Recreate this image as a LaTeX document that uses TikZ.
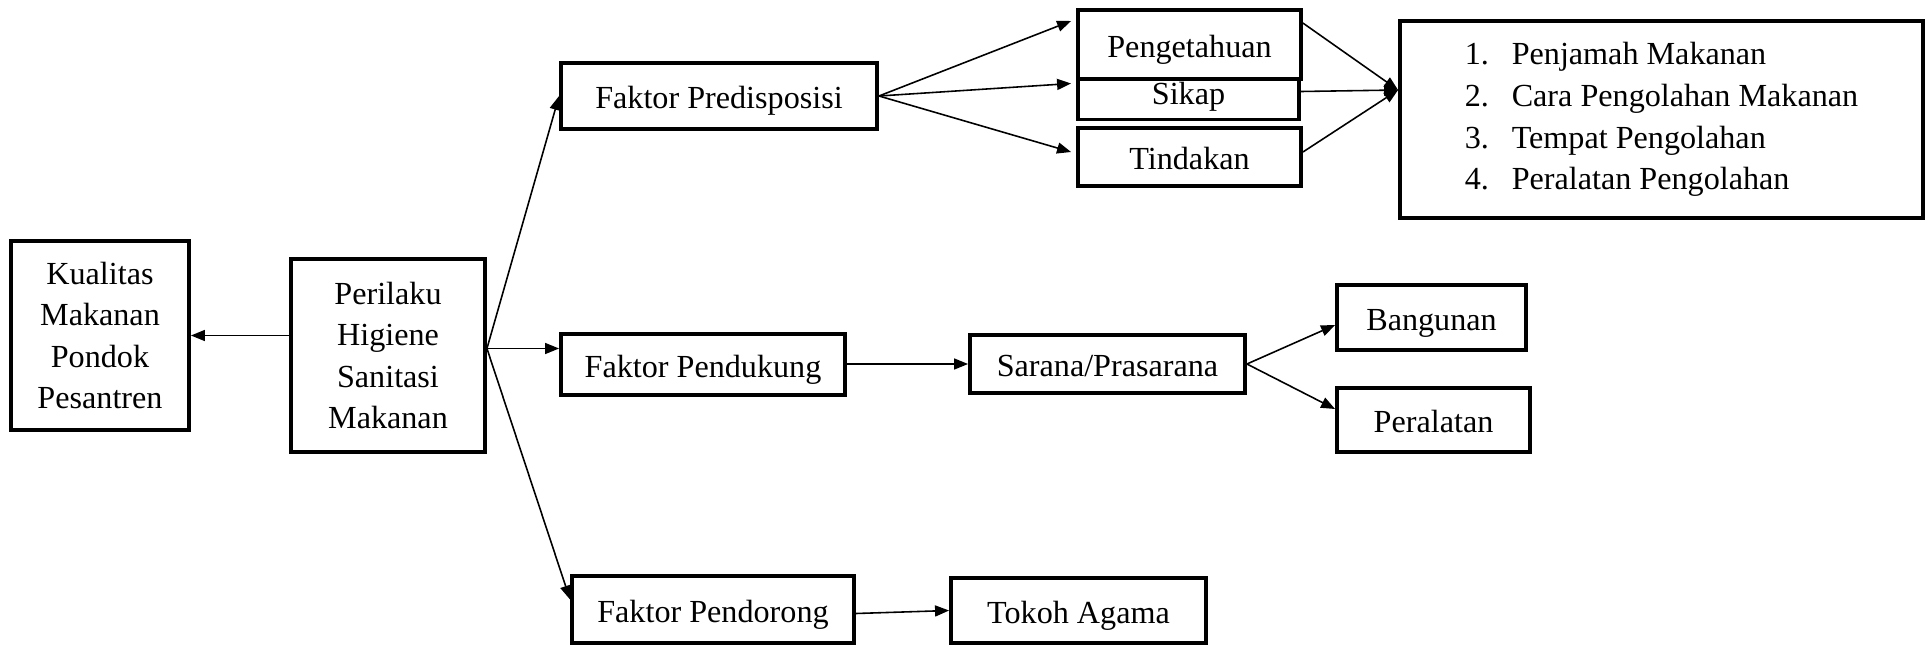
\documentclass[tikz,border=0pt]{standalone}
\usepackage{fontspec}
\setmainfont{Liberation Serif}
\usetikzlibrary{arrows.meta}
\begin{document}
\begin{tikzpicture}[
  kotak/.style={draw, line width=2.2pt, fill=white, inner sep=0pt, align=center,
    font=\fontsize{18.3}{23.7}\selectfont},
  satu/.style={kotak, text height=14.5pt, text depth=0pt},
  panah/.style={line width=0.9pt, -{Triangle[length=0.28cm,width=0.22cm]}}
  ]
  \useasboundingbox (0,0) rectangle (38.5,-12.9);

  \node [ kotak, minimum width=3.56cm, minimum height=3.78cm ] (Kualitas) at (2.0,-6.71) {Kualitas\\Makanan\\Pondok\\Pesantren};
  \node [ kotak, minimum width=3.88cm, minimum height=3.86cm ] (Perilaku) at (7.76,-7.11) {Perilaku\\Higiene\\Sanitasi\\Makanan};

  \node [ satu, minimum width=6.32cm, minimum height=1.32cm ] (Predisposisi) at (14.38,-1.92) {Faktor Predisposisi};
  \node [ satu, minimum width=5.68cm, minimum height=1.22cm ] (Pendukung) at (14.06,-7.29) {Faktor Pendukung};
  \node [ satu, minimum width=5.64cm, minimum height=1.34cm ] (Pendorong) at (14.26,-12.19) {Faktor Pendorong};

  \node [ satu, minimum width=4.42cm, minimum height=1.12cm ] (Sikap) at (23.77,-1.83) {Sikap};
  \node [ satu, minimum width=4.46cm, minimum height=1.38cm ] (Pengetahuan) at (23.79,-0.89) {Pengetahuan};
  \node [ satu, minimum width=4.46cm, minimum height=1.16cm ] (Tindakan) at (23.79,-3.14) {Tindakan};

  \node [ kotak, align=left, minimum width=10.46cm, minimum height=3.94cm ] (Daftar) at (33.23,-2.39)
    {\makebox[0.94cm][l]{1.}Penjamah Makanan\\
     \makebox[0.94cm][l]{2.}Cara Pengolahan Makanan\\
     \makebox[0.94cm][l]{3.}Tempat Pengolahan\\
     \makebox[0.94cm][l]{4.}Peralatan Pengolahan};

  \node [ satu, minimum width=5.5cm, minimum height=1.16cm ] (Sarana) at (22.15,-7.28) {Sarana/Prasarana};
  \node [ satu, minimum width=3.78cm, minimum height=1.3cm ] (Bangunan) at (28.63,-6.35) {Bangunan};
  \node [ satu, minimum width=3.86cm, minimum height=1.28cm ] (Peralatan) at (28.67,-8.4) {Peralatan};
  \node [ satu, minimum width=5.1cm, minimum height=1.3cm ] (Tokoh) at (21.57,-12.21) {Tokoh Agama};

  \coordinate (cabang) at ([yshift=0.14cm]Perilaku.east);

  \draw [ panah ] (Perilaku.west |- Kualitas.east) -- (Kualitas.east);
  \draw [ panah ] (cabang) -- (Predisposisi.west);
  \draw [ panah ] (cabang) -- (cabang -| Pendukung.west);
  \draw [ panah ] (cabang) -- ([yshift=0.2cm]Pendorong.west);

  \draw [ panah ] (Predisposisi.east) -- ([xshift=-0.1cm,yshift=0.47cm]Pengetahuan.west);
  \draw [ panah ] (Predisposisi.east) -- ([xshift=-0.1cm,yshift=0.16cm]Sikap.west);
  \draw [ panah ] (Predisposisi.east) -- ([xshift=-0.1cm,yshift=0.1cm]Tindakan.west);

  \draw [ panah ] ([yshift=-0.3cm]Pengetahuan.north east) -- ([yshift=0.59cm]Daftar.west);
  \draw [ panah ] (Sikap.east) -- ([yshift=0.59cm]Daftar.west);
  \draw [ panah ] ([yshift=0.1cm]Tindakan.east) -- ([yshift=0.59cm]Daftar.west);

  \draw [ panah ] (Pendukung.east |- Sarana.west) -- (Sarana.west);
  \draw [ panah ] (Sarana.east) -- ([yshift=-0.15cm]Bangunan.west);
  \draw [ panah ] (Sarana.east) -- ([yshift=0.22cm]Peralatan.west);

  \draw [ panah ] ([yshift=-0.08cm]Pendorong.east) -- (Tokoh.west);
\end{tikzpicture}
\end{document}
